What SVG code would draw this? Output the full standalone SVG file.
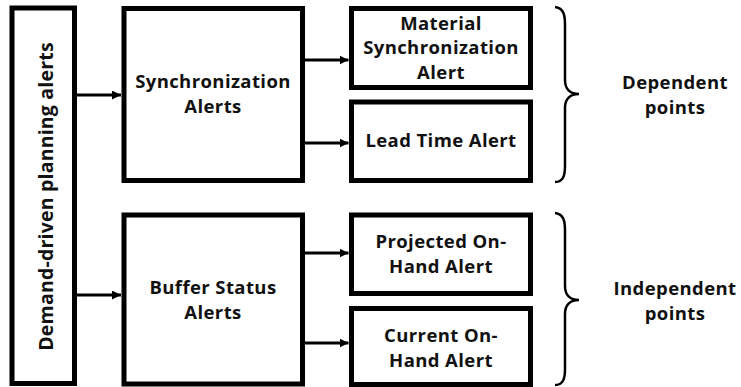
<svg xmlns="http://www.w3.org/2000/svg" width="741" height="387" viewBox="0 0 741 387">
<style>
.box{fill:#fff;stroke:#000;stroke-width:5}
.t{font-family:"Open Sans","Noto Sans",sans-serif;font-weight:bold;font-size:18.5px;letter-spacing:0.4px;fill:#111;text-anchor:middle}
.c{stroke:#000;stroke-width:3;fill:none}
.br{stroke:#000;stroke-width:2.5;fill:none}
</style>
<defs>
<marker id="ah" markerUnits="userSpaceOnUse" markerWidth="10" markerHeight="10" refX="9" refY="4.5" orient="auto">
<path d="M0,0 L9,4.5 L0,9 z" fill="#000"/>
</marker>
</defs>
<rect width="741" height="387" fill="#fff"/>
<g id="connectors">
<line class="c" x1="77" y1="95" x2="121" y2="95" marker-end="url(#ah)"/>
<line class="c" x1="77" y1="295" x2="121" y2="295" marker-end="url(#ah)"/>
<line class="c" x1="305" y1="60" x2="348.5" y2="60" marker-end="url(#ah)"/>
<line class="c" x1="305" y1="143" x2="348.5" y2="143" marker-end="url(#ah)"/>
<line class="c" x1="305" y1="253" x2="348.5" y2="253" marker-end="url(#ah)"/>
<line class="c" x1="305" y1="343" x2="348.5" y2="343" marker-end="url(#ah)"/>
</g>
<g id="root">
<rect class="box" x="12" y="8" width="62.5" height="375.5"/>
<text class="t" style="font-size:19.5px;letter-spacing:0.2px" transform="translate(53,196.5) rotate(-90)">Demand-driven planning alerts</text>
</g>
<g id="sync">
<rect class="box" x="124" y="8.5" width="178.5" height="172"/>
<text class="t" x="213" y="87.5">Synchronization</text>
<text class="t" x="213" y="112.5">Alerts</text>
</g>
<g id="buffer">
<rect class="box" x="124" y="215" width="178.5" height="169"/>
<text class="t" x="213" y="293.5">Buffer Status</text>
<text class="t" x="213" y="318.5">Alerts</text>
</g>
<g id="material">
<rect class="box" x="351.5" y="8.5" width="179" height="79"/>
<text class="t" x="441" y="29.5">Material</text>
<text class="t" x="441" y="54">Synchronization</text>
<text class="t" x="441" y="78.5">Alert</text>
</g>
<g id="leadtime">
<rect class="box" x="351.5" y="102" width="179" height="78.5"/>
<text class="t" x="441" y="147">Lead Time Alert</text>
</g>
<g id="projected">
<rect class="box" x="351.5" y="215" width="179" height="78.5"/>
<text class="t" x="441" y="247.5">Projected On-</text>
<text class="t" x="441" y="272.5">Hand Alert</text>
</g>
<g id="current">
<rect class="box" x="351.5" y="308.5" width="179" height="76"/>
<text class="t" x="441" y="341.5">Current On-</text>
<text class="t" x="441" y="366.5">Hand Alert</text>
</g>
<g id="dependent">
<path class="br" d="M555,7 C563,8 565,14 565,24 L565,80 C565,89 570,94 579,94 C570,94 565,99 565,108 L565,166 C565,176 563,182 555,182"/>
<text class="t" x="675" y="89">Dependent</text>
<text class="t" x="675" y="114">points</text>
</g>
<g id="independent">
<path class="br" d="M555,213 C563,214 565,220 565,230 L565,286 C565,295 570,300 579,300 C570,300 565,305 565,314 L565,369 C565,379 563,385 555,385"/>
<text class="t" x="675" y="295">Independent</text>
<text class="t" x="675" y="320">points</text>
</g>
</svg>
